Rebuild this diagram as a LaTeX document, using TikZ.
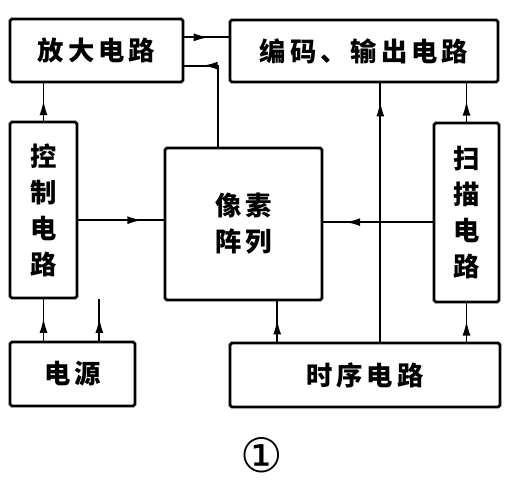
\documentclass[tikz,border=0pt]{standalone}
\usepackage{fontspec}
\newfontfamily\cjk{Noto Sans CJK SC}[LetterSpace=15]
\newfontfamily\symfont{DejaVu Sans}
\usetikzlibrary{positioning,arrows.meta,calc,decorations.markings}
\tikzset{
  blk/.style    = {rectangle, rounded corners=1pt, draw=black, line width=1.6pt,
                   align=center, inner sep=0pt, font=\cjk\bfseries\fontsize{15}{20.5}\selectfont},
  conn/.style   = {draw=black, line width=1.1pt},
  midarr/.style = {postaction={decorate}, decoration={markings,
                   mark=at position #1 with {\arrow{Latex[length=3mm,width=1.6mm]}}}},
  figno/.style  = {font=\symfont\fontsize{27}{27}\selectfont},
}
\begin{document}
\begin{tikzpicture}[x=0.02cm, y=-0.02cm]
  \useasboundingbox (0,0) rectangle (513,489);

  % top row
  \node[blk, minimum width=3.46cm, minimum height=1.26cm] (amp) at (96.5,50.5) {放大电路};
  \node[blk, minimum width=5.36cm, minimum height=1.24cm] (enc) at (364,51) {编码、输出电路};

  % middle row
  \node[blk, minimum width=1.34cm, minimum height=3.52cm] (ctrl) at (43.5,210) {控\\制\\电\\路};
  \node[blk, minimum width=3.14cm, minimum height=3.04cm] (pix) at (243.5,224) {像素\\阵列};
  \node[blk, minimum width=1.30cm, minimum height=3.58cm] (scan) at (466.5,212.5) {扫\\描\\电\\路};

  % bottom row
  \node[blk, minimum width=2.50cm, minimum height=1.28cm] (pwr) at (72.5,374) {电源};
  \node[blk, minimum width=5.40cm, minimum height=1.28cm] (tim) at (365,375) {时序电路};

  \node[figno] (num) at (262,455) {①};

  % tap points
  \coordinate (a1) at ($(amp.north east)!0.3!(amp.south east)$);
  \coordinate (a2) at ($(amp.north east)!0.73!(amp.south east)$);
  \coordinate (p1) at ($(pix.north west)!0.34!(pix.north east)$);
  \coordinate (c1) at ($(ctrl.north east)!0.557!(ctrl.south east)$);
  \coordinate (s1) at ($(scan.north west)!0.553!(scan.south west)$);
  \coordinate (t1) at ($(tim.north west)!0.556!(tim.north east)$);
  \coordinate (t2) at ($(tim.north west)!0.178!(tim.north east)$);
  \coordinate (w1) at ($(pwr.north west)!0.71!(pwr.north east)$);
  \coordinate (w2) at (w1 |- ctrl.south);

  % arrows
  \draw[conn, midarr=0.55] (a1) -- (a1 -| enc.west);
  \draw[conn, midarr=0.84] (p1) |- (a2);
  \draw[conn, midarr=0.55] (ctrl.north) -- (ctrl.north |- amp.south);
  \draw[conn, midarr=0.75] (c1) -- (c1 -| pix.west);
  \draw[conn, midarr=0.8] (s1) -- (s1 -| pix.east);
  \draw[conn, midarr=0.93] (t1) -- (t1 |- enc.south);
  \draw[conn, midarr=0.55] (scan.north) -- (scan.north |- enc.south);
  \draw[conn, midarr=0.55] (t2) -- (t2 |- pix.south);
  \draw[conn, midarr=0.55] (tim.north -| scan.south) -- (scan.south);
  \draw[conn, midarr=0.55] (pwr.north -| ctrl.south) -- (ctrl.south);
  \draw[conn, midarr=0.55] (w1) -- (w2);
\end{tikzpicture}
\end{document}
